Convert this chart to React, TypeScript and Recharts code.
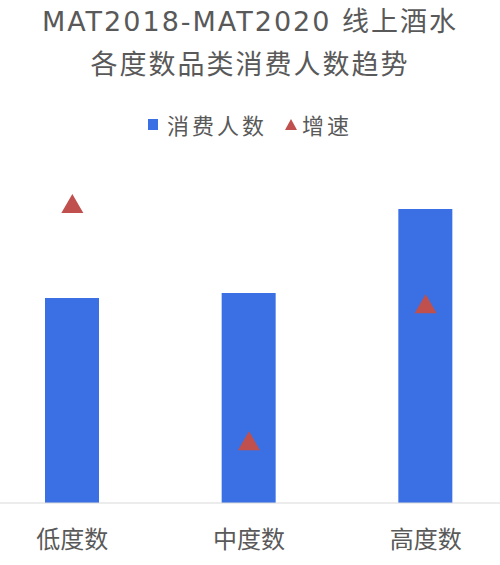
import React from "react";
import { ComposedChart, Bar, Line, XAxis, YAxis } from "recharts";

const categories = ["低度数", "中度数", "高度数"];
const consumers = [65.5, 67.1, 93.9];
const growth = [47.6, 9.7, 31.6];

const titleLines = ["MAT2018-MAT2020 线上酒水", "各度数品类消费人数趋势"];
const legendNames = { consumers: "消费人数", growth: "增速" };

const BAR_COLOR = "#3a70e4";
const TRI_COLOR = "#c0504d";
const TEXT_COLOR = "#595959";
const FONT = '"Noto Sans CJK SC", "Noto Sans", sans-serif';
const TITLE_FONT = '"DejaVu Sans", "Noto Sans CJK SC", sans-serif';

const data = categories.map((c, i) => ({ name: c, consumers: consumers[i], growth: growth[i] }));

const Triangle = (props: any) => {
  const { cx, cy } = props;
  if (cx == null || cy == null) return null;
  return (
    <polygon
      points={`${cx},${cy - 11} ${cx - 11},${cy + 8} ${cx + 11},${cy + 8}`}
      fill={TRI_COLOR}
    />
  );
};

const LegendBox = () => (
  <div
    style={{
      position: "absolute",
      left: 0,
      top: 109,
      width: 500,
      display: "flex",
      justifyContent: "center",
      alignItems: "center",
      fontFamily: FONT,
      fontSize: 22,
      lineHeight: "30px",
      color: TEXT_COLOR,
      letterSpacing: 3,
    }}
  >
    <span style={{ display: "inline-block", width: 10, height: 11, background: BAR_COLOR, marginRight: 9 }} />
    <span style={{ marginRight: 18 }}>{legendNames.consumers}</span>
    <svg width={12} height={11} style={{ marginRight: 5 }}>
      <polygon points="6,0 0,11 12,11" fill={TRI_COLOR} />
    </svg>
    <span>{legendNames.growth}</span>
  </div>
);

export default function App() {
  return (
    <div
      style={{
        position: "absolute",
        left: 0,
        top: 0,
        width: 500,
        height: 565,
        overflow: "hidden",
        background: "#ffffff",
      }}
    >
      <div
        style={{
          position: "absolute",
          left: 0,
          top: 0,
          width: 500,
          textAlign: "center",
          fontFamily: TITLE_FONT,
          fontSize: 27,
          lineHeight: "43px",
          color: TEXT_COLOR,
          letterSpacing: 2,
        }}
      >
        <div>{titleLines[0]}</div>
        <div>{titleLines[1]}</div>
      </div>
      <LegendBox />
      <div style={{ position: "absolute", left: -16, top: 0 }}>
        <ComposedChart
          width={530}
          height={565}
          data={data}
          margin={{ top: 190, right: 0, bottom: 12, left: 0 }}
          barCategoryGap={0}
        >
          <XAxis
            dataKey="name"
            height={50}
            axisLine={{ stroke: "#d9d9d9", strokeWidth: 1 }}
            tickLine={false}
            tickMargin={22}
            tick={{ fill: TEXT_COLOR, fontSize: 24, fontFamily: FONT }}
            interval={0}
          />
          <YAxis yAxisId="left" hide domain={[0, 100]} />
          <YAxis yAxisId="right" hide orientation="right" domain={[0, 50]} />
          <Bar
            yAxisId="left"
            dataKey="consumers"
            fill={BAR_COLOR}
            barSize={54}
            isAnimationActive={false}
          />
          <Line
            yAxisId="right"
            dataKey="growth"
            stroke="none"
            dot={<Triangle />}
            activeDot={false}
            isAnimationActive={false}
          />
        </ComposedChart>
      </div>
    </div>
  );
}
